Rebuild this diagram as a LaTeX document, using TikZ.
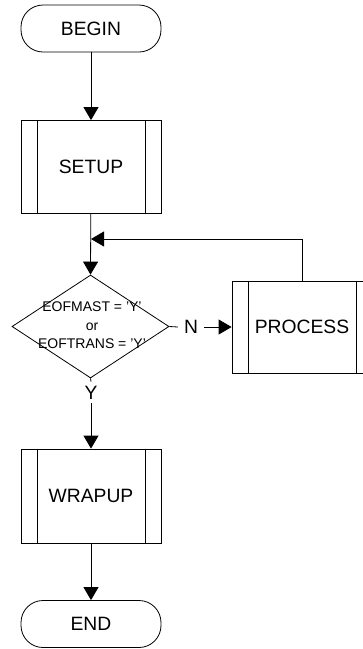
\documentclass[tikz,border=0pt]{standalone}
\usepackage{fontspec}
\setmainfont{Liberation Sans}
\usetikzlibrary{shapes.geometric,arrows.meta}
\tikzset{
  conn/.style={draw=black, line width=0.8pt},
  tri/.tip={Triangle[length=13pt,width=15pt]},
  term/.style={draw=black, line width=0.8pt, rounded corners=22pt, minimum width=140pt, minimum height=47pt, inner sep=0pt, font=\fontsize{19.3}{22}\selectfont},
  subproc/.style={draw=black, line width=0.8pt, minimum width=140pt, minimum height=93pt, inner sep=0pt, font=\fontsize{19.3}{22}\selectfont},
  decide/.style={draw=black, line width=0.8pt, diamond, minimum width=157pt, minimum height=103pt, inner sep=0pt},
  small/.style={font=\fontsize{14}{18.5}\selectfont, align=center, inner sep=0pt},
  lab/.style={font=\fontsize{19.3}{22}\selectfont, fill=white, inner xsep=6pt, inner ysep=3pt}
}
\newcommand{\sideLines}[1]{%
  \draw[line width=0.8pt] ([xshift=16.5pt]#1.north west) -- ([xshift=16.5pt]#1.south west);
  \draw[line width=0.8pt] ([xshift=-16.5pt]#1.north east) -- ([xshift=-16.5pt]#1.south east);}
\begin{document}
\begin{tikzpicture}[x=1pt,y=-1pt]
\useasboundingbox (0,0) rectangle (363,649);
\node[term] (b) at (91,28.5) {BEGIN};
\node[subproc] (s) at (91,167) {SETUP};
\sideLines{s}
\node[decide] (d) at (90.5,326.5) {};
\node[small] (dt) at (92,325.5) {EOFMAST = 'Y'\\or\\EOFTRANS = 'Y'};
\node[subproc, minimum height=92pt] (p) at (302,327) {PROCESS};
\sideLines{p}
\node[subproc, minimum height=94pt] (w) at (91,496) {WRAPUP};
\sideLines{w}
\node[term] (e) at (91,624) {END};
\node[lab] (n) at (191,327) {N};
\node[lab, inner xsep=3pt, inner ysep=4pt] (y) at (91,392.5) {Y};
\coordinate (j) at (91,239);
\draw[conn,-tri] (b) -- (s);
\draw[conn,-tri] (s) -- (d.north);
\draw[conn] (d.east) -- (n.west);
\draw[conn,-tri] (n.east) -- (p.west);
\draw[conn,-tri] (p.north) |- (j);
\draw[conn] (d.south) -- (y.north);
\draw[conn,-tri] (y.south) -- (w.north);
\draw[conn,-tri] (w) -- (e);
\end{tikzpicture}
\end{document}
